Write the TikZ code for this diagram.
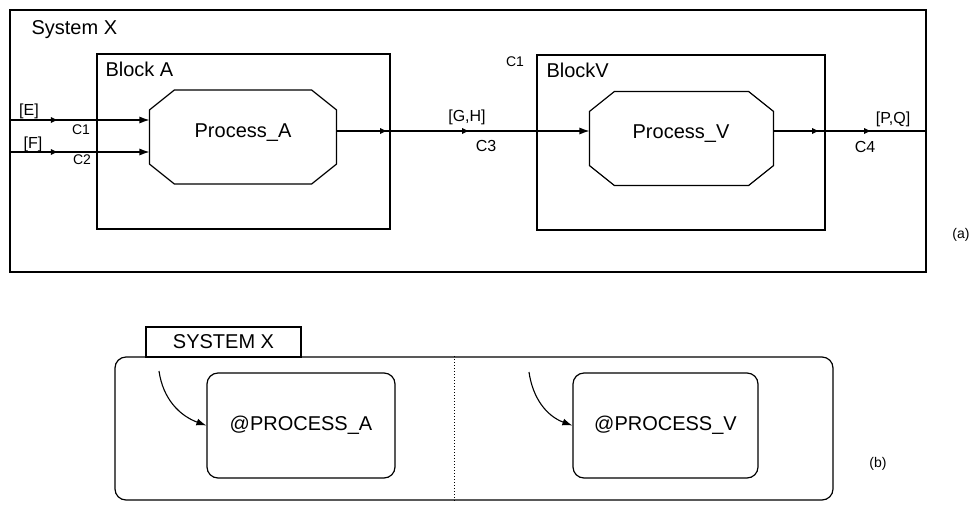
\documentclass[tikz,border=0pt]{standalone}
\usepackage{fontspec}
\setmainfont{Liberation Sans}
\usetikzlibrary{arrows.meta,decorations.markings,calc}
\newcommand{\octagonof}[1]{%
  \draw[line width=1.2pt] ($(#1.north west)+(25,0)$) -- ($(#1.north east)+(-25,0)$) -- ($(#1.north east)+(0,20)$)
    -- ($(#1.south east)+(0,-20)$) -- ($(#1.south east)+(-25,0)$) -- ($(#1.south west)+(25,0)$)
    -- ($(#1.south west)+(0,-20)$) -- ($(#1.north west)+(0,20)$) -- cycle;}
\begin{document}
\begin{tikzpicture}[x=1pt,y=-1pt,line width=1.1pt,
  box/.style={draw, rectangle, inner sep=0pt, line width=1.2pt},
  hollow/.style={rectangle, inner sep=0pt, draw=none},
  rbox/.style={draw, rectangle, rounded corners=11pt, inner sep=0pt, line width=1.2pt},
  big/.style={font=\fontsize{20}{20}\selectfont, inner sep=0pt},
  lab/.style={font=\fontsize{16}{16}\selectfont, inner sep=0pt},
  small/.style={font=\fontsize{14}{14}\selectfont, inner sep=0pt},
  tip/.style={-{Latex[length=10pt,width=7pt]}},
  mk/.style={postaction={decorate,decoration={markings,mark=at position #1 with {\fill (-3.5,-3) -- (2.5,0) -- (-3.5,3) -- cycle;}}}}]
\useasboundingbox (0,0) rectangle (971,504);
% ---------- part (a) ----------
\node[box, minimum width=916, minimum height=262] (sysx) at (468,141) {};
\node[big, anchor=west] (tsysx) at (31,30) {System X};
\node[box, minimum width=293, minimum height=175] (blkA) at (243.5,141.5) {};
\node[big, anchor=west] (tblkA) at (105,69) {Block A};
\node[box, minimum width=288, minimum height=175] (blkV) at (681,142.5) {};
\node[big, anchor=west] (tblkV) at (546,70) {BlockV};
\node[hollow, minimum width=186, minimum height=93] (pa) at (243,137) {};
\node[big] (tpa) at (243,133) {Process\_A};
\octagonof{pa}
\node[hollow, minimum width=183, minimum height=93] (pv) at (681.5,138.5) {};
\node[big] (tpv) at (681,134) {Process\_V};
\octagonof{pv}
\coordinate (yE) at (0,120);
\coordinate (yF) at (0,152);
\coordinate (yL) at (0,131);
\draw[tip, mk=45pt] (sysx.west |- yE) -- (pa.west |- yE);
\draw[tip, mk=45pt] (sysx.west |- yF) -- (pa.west |- yF);
\draw[tip, mk=47pt, mk=129pt] (pa.east |- yL) -- (pv.west |- yL);
\draw[mk=42pt, mk=94pt] (pv.east |- yL) -- (sysx.east |- yL);
\node[lab] (lE) at (29,111) {[E]};
\node[lab] (lF) at (33,144) {[F]};
\node[small] (c1) at (81,130) {C1};
\node[small] (c2) at (82,160) {C2};
\node[lab] (lGH) at (467,117) {[G,H]};
\node[lab] (c3) at (486,146) {C3};
\node[small] (c1b) at (515,62) {C1};
\node[lab] (lPQ) at (893,119) {[P,Q]};
\node[lab] (c4) at (865,147) {C4};
\node[small] (la) at (961,235) {(a)};
% ---------- part (b) ----------
\node[rbox, minimum width=718, minimum height=143] (sysb) at (474,428.5) {};
\node[box, big, minimum width=155, minimum height=30] (tab) at (223.5,342) {SYSTEM X};
\coordinate (dv) at (454,0);
\draw[dotted, line width=1pt] (dv |- sysb.north) -- (dv |- sysb.south);
\node[rbox, big, minimum width=188, minimum height=105] (pA) at (301,425.5) {@PROCESS\_A};
\node[rbox, big, minimum width=185, minimum height=105] (pV) at (665.5,425.5) {@PROCESS\_V};
\coordinate (sA) at (159,371);
\coordinate (sV) at (529,372);
\draw[tip] (sA) to[out=-82,in=160] (pA.west);
\draw[tip] (sV) to[out=-82,in=160] (pV.west);
\node[small] (lb) at (878,464) {(b)};
\end{tikzpicture}
\end{document}
